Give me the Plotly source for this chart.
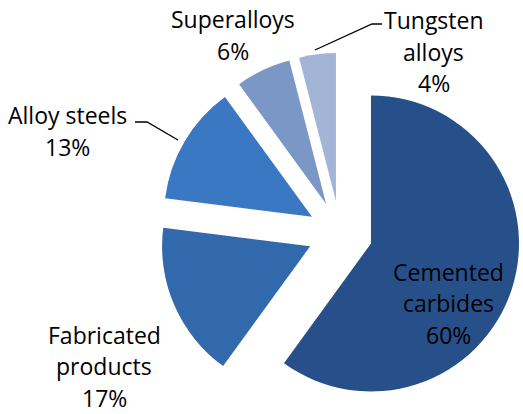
import plotly.graph_objects as go

labels = ["Cemented carbides", "Fabricated products", "Alloy steels", "Superalloys", "Tungsten alloys"]
values = [60, 17, 13, 6, 4]
colors = ["#27508a", "#3269ac", "#3a78c3", "#7b97c6", "#a2b5d6"]
label_lines = [["Cemented", "carbides"], ["Fabricated", "products"], ["Alloy steels"], ["Superalloys"], ["Tungsten", "alloys"]]
# label centre positions (paper coords)
label_pos = [(0.8566, 0.2681), (0.1989, 0.1159), (0.1300, 0.6836), (0.4455, 0.9155), (0.8298, 0.8744)]

FONT = "Open Sans, Calibri, sans-serif"
LINE_H = 31.5  # px between label lines

fig = go.Figure(
    go.Pie(
        labels=labels,
        values=values,
        sort=False,
        direction="clockwise",
        rotation=0,
        pull=[0.22] * len(values),
        marker=dict(colors=colors, line=dict(width=0)),
        textinfo="none",
        hoverinfo="label+percent",
        domain=dict(x=[0.3048, 0.9954], y=[0.0, 0.8725]),
        showlegend=False,
    )
)

total = sum(values)
for lines, v, (x, y) in zip(label_lines, values, label_pos):
    rows = lines + [f"{round(100 * v / total)}%"]
    mid = (len(rows) - 1) / 2
    for i, row in enumerate(rows):
        fig.add_annotation(
            x=x, y=y, xref="paper", yref="paper",
            xanchor="center", yanchor="middle",
            yshift=(mid - i) * LINE_H,
            text=row, showarrow=False,
            font=dict(family=FONT, size=23, color="#000000"),
        )

# leader lines
fig.add_shape(type="path", xref="paper", yref="paper",
              path="M 0.2581 0.7053 L 0.2811 0.7053 L 0.3403 0.6618",
              line=dict(color="#000000", width=1.3))
fig.add_shape(type="path", xref="paper", yref="paper",
              path="M 0.6023 0.8792 L 0.7113 0.9420 L 0.7304 0.9420",
              line=dict(color="#000000", width=1.3))

fig.update_layout(
    width=523,
    height=414,
    margin=dict(l=0, r=0, t=0, b=0),
    paper_bgcolor="white",
    plot_bgcolor="white",
    font=dict(family=FONT),
)

# drop the default 8px body margin so the figure fills the window
fig.write_html(
    "out.html",
    config={"displayModeBar": False},
    post_script="document.body.style.margin='0';",
)
